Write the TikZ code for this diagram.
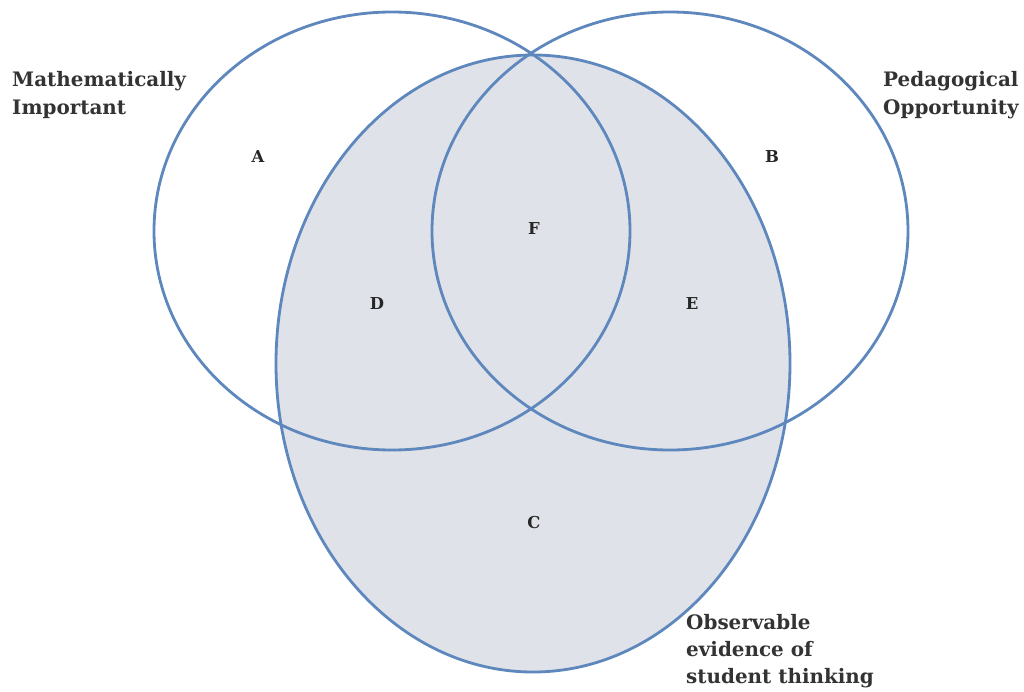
\documentclass[tikz,border=0pt]{standalone}
\usepackage{fontspec}
\setmainfont{DejaVu Serif}
\begin{document}
\begin{tikzpicture}[x=0.03cm,y=-0.03cm,
  ring/.style={draw=ringblue,line width=2.4pt},
  lbl/.style={font=\bfseries\fontsize{14}{16}\selectfont,text=black!85},
  side/.style={font=\bfseries\fontsize{17}{24}\selectfont,text=black!80,align=left,inner sep=0pt,anchor=north west}]
\definecolor{ringblue}{HTML}{5E88BD}
\definecolor{shade}{HTML}{DFE2E8}
\useasboundingbox (0,0) rectangle (1024,692);
\path[fill=shade] (533,363.5) ellipse [x radius=257, y radius=308.5];
\draw[ring] (392,231) ellipse [x radius=238, y radius=219];
\draw[ring] (670,231) ellipse [x radius=238, y radius=219];
\draw[ring] (533,363.5) ellipse [x radius=257, y radius=308.5];
\node[lbl] (a) at (258,157) {A};
\node[lbl] (b) at (772,157) {B};
\node[lbl] (f) at (534,229) {F};
\node[lbl] (d) at (377,304) {D};
\node[lbl] (e) at (692,304) {E};
\node[lbl] (c) at (534,523) {C};
\node[side] (mi) at (12,71) {Mathematically\\Important};
\node[side] (po) at (883,71) {Pedagogical\\Opportunity};
\node[side,font=\bfseries\fontsize{17}{23}\selectfont] (oe) at (686,614) {Observable\\evidence of\\student thinking};
\end{tikzpicture}
\end{document}
